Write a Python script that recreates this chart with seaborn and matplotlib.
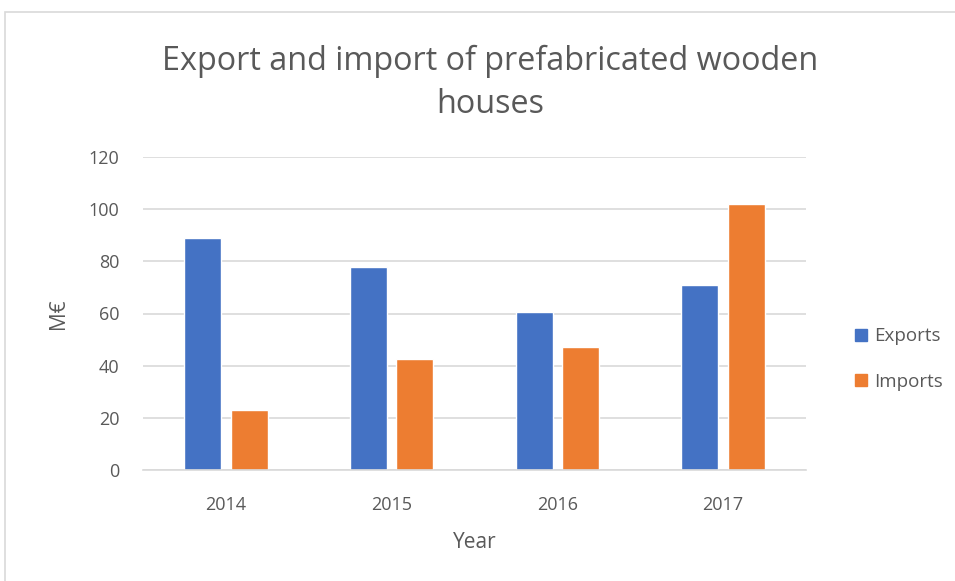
import matplotlib
matplotlib.use("Agg")
import matplotlib.pyplot as plt
from matplotlib.patches import Rectangle
import seaborn as sns
import pandas as pd

years = ["2014", "2015", "2016", "2017"]
exports = [88.8, 77.8, 60.5, 70.9]
imports = [22.9, 42.7, 47.0, 102.0]
series = ["Exports", "Imports"]
yticks = [0, 20, 40, 60, 80, 100, 120]

df = pd.DataFrame({
    "Year": years * 2,
    "Value": exports + imports,
    "Series": [series[0]] * len(years) + [series[1]] * len(years),
})

sns.set_theme(style="white")
plt.rcParams["font.family"] = ["Open Sans", "DejaVu Sans"]

text_color = "#595959"
grid_color = "#D9D9D9"
palette = {"Exports": "#4472C4", "Imports": "#ED7D31"}

fig = plt.figure(figsize=(9.55, 5.81), dpi=100)
fig.patch.set_facecolor("white")

# outer chart border
fig.patches.append(Rectangle((5 / 955, -0.05), 1.1, (581 - 12) / 581 + 0.05,
                             transform=fig.transFigure, fill=False,
                             edgecolor="#D9D9D9", linewidth=1.2, zorder=0))

ax = fig.add_axes([143 / 955, (581 - 470) / 581, 663 / 955, 313 / 581])
sns.barplot(data=df, x="Year", y="Value", hue="Series", palette=palette,
            width=0.56, gap=0.2, ax=ax, saturation=1, legend=False)

ax.set_ylim(0, 120)
ax.set_yticks(yticks)
ax.yaxis.grid(True, color=grid_color, linewidth=1.2)
ax.set_axisbelow(True)
for side in ["top", "right", "left"]:
    ax.spines[side].set_visible(False)
ax.spines["bottom"].set_color(grid_color)
ax.spines["bottom"].set_linewidth(1.2)
ax.tick_params(axis="both", length=0, labelsize=13, colors=text_color)
ax.tick_params(axis="x", pad=19)
ax.tick_params(axis="y", pad=17)
ax.set_xlabel("Year", fontsize=15, color=text_color, labelpad=13)
ax.set_ylabel("M€", fontsize=15, color=text_color, labelpad=14)

fig.text(490 / 955, 1 - 83 / 581, "Export and import of prefabricated wooden\nhouses",
         ha="center", va="center", fontsize=23.3, color=text_color,
         linespacing=1.4)

handles = [Rectangle((0, 0), 1, 1, color=palette[s]) for s in series]
fig.legend(handles, series, loc="center left",
           bbox_to_anchor=(838 / 955, 1 - 359 / 581), frameon=False,
           fontsize=13.5, labelcolor=text_color, handlelength=0.65,
           handleheight=0.65, handletextpad=0.4, labelspacing=1.45)

fig.savefig("out.png", dpi=100, facecolor="white")
